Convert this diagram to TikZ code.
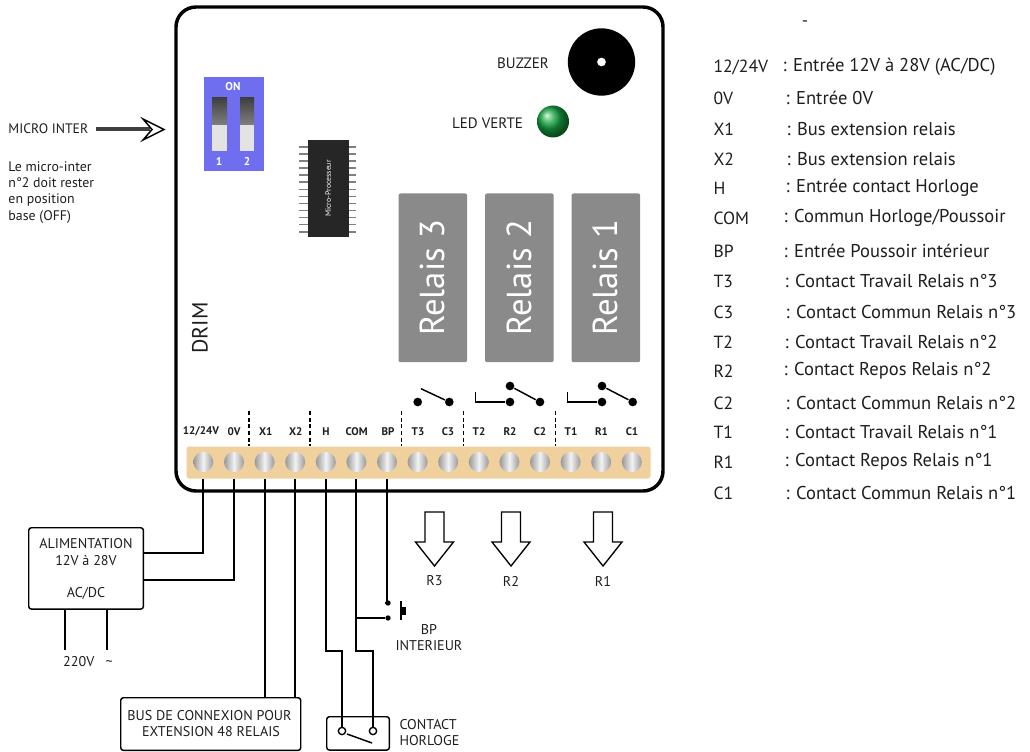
\documentclass[tikz,border=0pt]{standalone}
\usepackage{fontspec}
\setmainfont{PT Sans}
\definecolor{stripcol}{RGB}{240,208,156}
\definecolor{relaycol}{RGB}{138,138,138}
\definecolor{dipcol}{RGB}{110,110,238}
\definecolor{txtcol}{RGB}{30,30,30}
\definecolor{ledcol}{RGB}{20,165,65}
\newcommand{\fs}[1]{\fontsize{#1}{#1}\selectfont}
\tikzset{every picture/.style={line width=0.75pt}}
\tikzset{
  txt/.style={inner sep=0.75pt,text=txtcol,align=center},
  lab/.style={txt,font=\fs{10.6}},
  wire/.style={line width=1.5pt},
  box/.style={draw,line width=1.1pt,rounded corners=2pt,inner sep=0pt,anchor=north west},
  openarrow/.style={draw,line width=1pt,line join=miter,fill=white},
  terminal/.style={circle,minimum size=15pt,inner sep=0pt,left color=gray!80,right color=gray!80,middle color=gray!10},
  termlabel/.style={txt,font=\fs{8.3}\bfseries},
  dot/.style={circle,fill=black,minimum size=6.5pt,inner sep=0pt},
  smalldot/.style={circle,fill=black,minimum size=4pt,inner sep=0pt},
  opendot/.style={circle,draw,fill=white,line width=1pt,minimum size=5.5pt,inner sep=0pt},
  relay/.style={fill=relaycol,rounded corners=1.5pt,minimum width=51.5pt,minimum height=126.5pt,inner sep=0pt,anchor=north west},
  relaytext/.style={text=white,rotate=90,font=\fs{26}},
  listkey/.style={txt,anchor=west,font=\fs{13.2}},
  listval/.style={txt,anchor=west,font=\fs{13.9}},
  sep/.style={dashed,line width=0.9pt,dash pattern=on 3pt off 2pt},
  slot/.style={top color=black!75,bottom color=gray},
  dipnum/.style={txt,text=white,font=\fs{8.5}\bfseries},
}
\begin{document}
\begin{tikzpicture}[x=0.75pt,y=0.75pt,yscale=-1,xscale=1]
\useasboundingbox (0,0) rectangle (1030,752);

%Board
\draw [line width=2.6pt,rounded corners=15pt,fill=white] (176,7) rectangle (663,491);
\node [fill=stripcol,rounded corners=2pt,minimum width=348pt,minimum height=24pt,inner sep=0pt,anchor=north west] (strip) at (186,446) {};

%Terminals and their labels
\foreach \name/\lab/\xx/\lx in {vcc/12\slash 24V/203.3/201,gnd/0V/234/234,xa/X1/264.6/265.7,xb/X2/295.2/295.7,hh/H/325.8/326,com/COM/356.4/356.7,bp/BP/387/388,tc/T3/417.6/418,cc/C3/448.2/448,tb/T2/478.8/479,rb/R2/509.4/510,cb/C2/540/540,ta/T1/570.6/571,ra/R1/601.2/601.5,ca/C1/631.8/632} {
  \node [terminal] (term\name) at (\xx,462) {};
  \node [termlabel] (lab\name) at (\lx,431.5) {\lab};
}
% separators
\foreach \xx in {249,310,401.7,463.7,555.7} \draw [sep] (\xx,411) -- (\xx,446);

%Relays
\node [relay] (relay3) at (398,193) {};
\node [relaytext] at (relay3.center) {Relais 3};
\node [relay] (relay2) at (484.5,193) {};
\node [relaytext] at (relay2.center) {Relais 2};
\node [relay] (relay1) at (571,193) {};
\node [relaytext] at (relay1.center) {Relais 1};

%Relay contacts
\node [dot] (dotT3) at (417.7,402) {};
\node [dot] (dotC3) at (449.3,402) {};
\coordinate (armT3) at (421,388.7);
\draw [line width=1.1pt] (armT3) -- (dotC3);
\node [dot] (dotR2) at (510,402) {};
\node [dot] (dotU2) at (510,386) {};
\node [dot] (dotC2) at (540,402) {};
\coordinate (armT2) at (475.7,391.7);
\draw [line width=1.1pt] (armT2) |- (dotR2);
\draw [line width=1.1pt] (dotU2) -- (dotC2);
\node [dot] (dotR1) at (602,402) {};
\node [dot] (dotU1) at (602,386) {};
\node [dot] (dotC1) at (632.7,402) {};
\coordinate (armT1) at (567.7,391.7);
\draw [line width=1.1pt] (armT1) |- (dotR1);
\draw [line width=1.1pt] (dotU1) -- (dotC1);

%Dip switch
\node [fill=dipcol,minimum width=45pt,minimum height=70.5pt,inner sep=0pt,anchor=north west] (dip) at (203,77) {};
\shade [slot] (212,98) rectangle (227,125);
\shade [slot] (240,98) rectangle (254,125);
\fill [gray!22] (212,125) rectangle (227,151);
\fill [gray!22] (240,125) rectangle (254,151);
\node [dipnum] (dipon) at (233,87) {ON};
\node [dipnum] (dipa) at (219,161) {1};
\node [dipnum] (dipb) at (247,161) {2};

%Micro-processor
\foreach \yy in {147,154,161,168,175,182,189.5,196.5,203.5,210.5,217.5,224.5,232} \draw [gray,line width=1.4pt] (299,\yy) -- (356,\yy);
\node [fill=black!85,minimum width=31pt,minimum height=72pt,inner sep=0pt,anchor=north west] (chip) at (307,140) {};
\node [txt,text=white,rotate=90,font=\fs{5.8}] (chiplab) at (chip.center) {Micro-Processeur};

%Buzzer and led
\node [circle,fill=black,minimum size=50.5pt,inner sep=0pt] (buzzer) at (601.5,62) {};
\node [circle,fill=white,minimum size=6.5pt,inner sep=0pt] (buzzerhole) at (buzzer.center) {};
\node [circle,minimum size=24pt,inner sep=0pt,ball color=ledcol] (led) at (553,121.5) {};
\node [txt,font=\fs{11.3}] (labbuzzer) at (523,63) {BUZZER};
\node [txt,font=\fs{11.3}] (labled) at (487.5,123) {LED VERTE};
\node [txt,rotate=90,font=\fs{16.5}] (drim) at (200,328) {DRIM};

%Micro inter
\node [txt,anchor=west,font=\fs{10.3}] (microinter) at (7,129) {MICRO INTER};
\coordinate (microend) at (150,129);
\draw [line width=2.8pt,black!75] (96,129) -- (microend);
\draw [line width=1.1pt,line join=miter,fill=white] (143,119) -- (164,129.5) -- (143,140) -- (152,129.5) -- cycle;
\node [txt,anchor=north west,align=left,font=\fs{10.4}] (microtext) at (7,160) {Le micro-inter\\[1.8pt]n\textdegree 2 doit rester\\[1.8pt]en position\\[1.8pt]base (OFF)};

%Alimentation
\node [box,minimum width=86pt,minimum height=61pt] (alim) at (28,527) {};
\node [lab] (alimtext) at (86,544) {ALIMENTATION};
\node [lab] (alimvolt) at (86,560) {12V à 28V};
\node [lab] (alimac) at (86,593) {AC/DC};
\node [lab] (mains) at (88,662) {220V ~~\textasciitilde};
\coordinate (alimA) at (alim.east |- 0,553);
\coordinate (alimB) at (alim.east |- 0,580);
\draw [wire] (termvcc |- strip.south) |- (alimA);
\draw [wire] (termgnd |- strip.south) |- (alimB);
\coordinate (mainsA) at (65,650);
\coordinate (mainsB) at (107,650);
\draw [wire] (mainsA |- alim.south) -- (mainsA);
\draw [wire] (mainsB |- alim.south) -- (mainsB);

%Bus box
\node [box,minimum width=135pt,minimum height=39.5pt] (bus) at (120,697) {};
\node [lab] (bustext) at (209.5,716) {BUS DE CONNEXION POUR};
\node [lab] (bustextb) at (211,732) {EXTENSION 48 RELAIS};
\draw [wire] (termxa |- strip.south) -- (termxa |- bus.north);
\draw [wire] (termxb |- strip.south) -- (termxb |- bus.north);

%Contact horloge
\node [box,minimum width=47pt,minimum height=25pt] (clock) at (326,716) {};
\coordinate (kneeH) at (325,651);
\coordinate (kneeCom) at (355,651);
\node [opendot] (clockA) at (342,731) {};
\node [opendot] (clockB) at (373,731) {};
\coordinate (clockArm) at (372,743);
\draw [line width=1.1pt] (347,734) -- (clockArm);
\draw [wire] (termhh |- strip.south) |- (clockA |- kneeH) -- (clockA);
\draw [wire] (termcom |- strip.south) |- (clockB |- kneeCom) -- (clockB);
\node [lab,anchor=west] (clocktext) at (398,725) {CONTACT};
\node [lab,anchor=west] (clocktextb) at (398,741) {HORLOGE};

%Push button
\node [smalldot] (pushA) at (388,603) {};
\node [smalldot] (pushB) at (388,618) {};
\draw [wire] (termbp |- strip.south) |- (pushA);
\draw [wire] (termcom |- pushB) -- (pushB);
\draw [wire] (401,601) -- (401,620);
\fill (401,607) rectangle (406,615);
\node [lab] (pushtext) at (429,630) {BP};
\node [lab] (pushtextb) at (429,646) {INTERIEUR};

%Relay arrows
\foreach \xx/\lab in {434.5/R3,511/R2,603/R1} {
  \draw [openarrow] (\xx-9.5,512) -- (\xx+9.5,512) -- (\xx+9.5,542) -- (\xx+19,542) -- (\xx,566) -- (\xx-19,542) -- (\xx-9.5,542) -- cycle;
  \node [lab] (arrow\lab) at (\xx,581) {\lab};
}

%List
\node [listkey,anchor=center] (topdash) at (805,24) {-};
\foreach \key/\val/\xx/\yy in {
  12\slash 24V/: Entrée 12V à 28V (AC\slash DC)/781/67,
  0V/: Entrée 0V/784/98,
  X1/: Bus extension relais/785/129,
  X2/: Bus extension relais/785/159,
  H/: Entrée contact Horloge/784/188,
  COM/: Commun Horloge\slash Poussoir/782/218,
  BP/: Entrée Poussoir intérieur/782/251,
  T3/: Contact Travail Relais n\textdegree 3/783/281,
  C3/: Contact Commun Relais n\textdegree 3/784/312,
  T2/: Contact Travail Relais n\textdegree 2/783/342,
  R2/: Contact Repos Relais n\textdegree 2/782/371,
  C2/: Contact Commun Relais n\textdegree 2/784/403,
  T1/: Contact Travail Relais n\textdegree 1/783/432,
  R1/: Contact Repos Relais n\textdegree 1/783/462,
  C1/: Contact Commun Relais n\textdegree 1/784/493} {
  \node [listkey] at (712,\yy) {\key};
  \node [listval] at (\xx,\yy) {\val};
}

\end{tikzpicture}
\end{document}
